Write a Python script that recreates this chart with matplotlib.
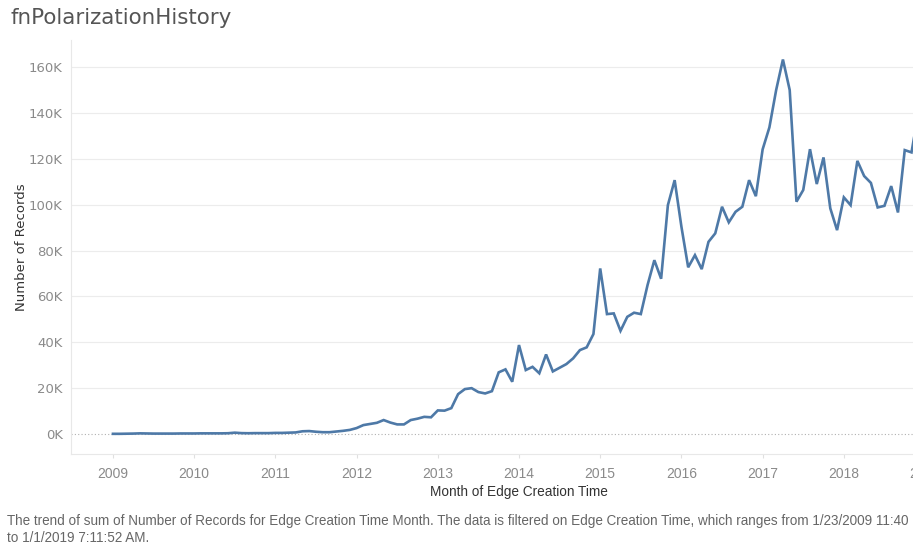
import numpy as np
import matplotlib.pyplot as plt

# monthly totals (thousands), Jan 2009 .. Dec 2018
records_2009 = [0.1, 0.1, 0.15, 0.2, 0.3, 0.25, 0.2, 0.2, 0.2, 0.2, 0.25, 0.25]
records_2010 = [0.25, 0.3, 0.3, 0.3, 0.3, 0.35, 0.6, 0.4, 0.35, 0.4, 0.4, 0.4]
records_2011 = [0.5, 0.5, 0.6, 0.7, 1.2, 1.3, 1.0, 0.8, 0.8, 1.1, 1.4, 1.8]
records_2012 = [2.6, 3.9, 4.4, 4.9, 6.1, 5.0, 4.2, 4.2, 6.1, 6.7, 7.5, 7.3]
records_2013 = [10.3, 10.2, 11.3, 17.4, 19.6, 20.0, 18.3, 17.7, 18.7, 26.9, 28.2, 22.8]
records_2014 = [38.8, 27.9, 29.3, 26.5, 34.7, 27.3, 28.9, 30.5, 33.0, 36.6, 37.8, 43.6]
records_2015 = [72.2, 52.3, 52.6, 45.0, 51.1, 52.9, 52.3, 65.0, 75.8, 67.7, 99.8, 110.7]
records_2016 = [90.4, 72.7, 78.0, 71.9, 83.8, 87.5, 99.1, 92.3, 96.9, 99.1, 110.7, 103.7]
records_2017 = [124.1, 133.7, 150.0, 163.3, 150.0, 101.3, 106.4, 124.2, 109.0, 120.6, 98.4, 88.9]
records_2018 = [103.2, 99.8, 119.1, 112.5, 109.5, 98.8, 99.5, 108.1, 96.6, 123.8, 122.8, 140.0]

years = list(range(2009, 2020))
y_ticks = [0, 20, 40, 60, 80, 100, 120, 140, 160]

values = np.array(records_2009 + records_2010 + records_2011 + records_2012 + records_2013
                  + records_2014 + records_2015 + records_2016 + records_2017 + records_2018)
months = np.arange(len(values))

narrow = ['Liberation Sans', 'DejaVu Sans']

fig = plt.figure(figsize=(9.13, 5.46), dpi=100)
ax = fig.add_axes([71 / 913, 92 / 546, 896 / 913, 414 / 546])

ax.plot(months, values, color='#4e79a7', lw=1.9, solid_joinstyle='miter', zorder=3)

ax.set_xlim(-6.2, 126.2)
ax.set_ylim(-8.7, 171.8)

ax.set_yticks(y_ticks)
ax.set_yticklabels([f'{v}K' for v in y_ticks])
ax.set_xticks([(y - 2009) * 12 for y in years])
ax.set_xticklabels([str(y) for y in years], family=narrow)

for v in y_ticks[1:]:
    ax.axhline(v, color='#ececec', lw=0.8, zorder=1)
ax.axhline(0, color='#b0b0b0', lw=0.8, ls=(0, (1, 2)), zorder=2)

for s in ['top', 'right']:
    ax.spines[s].set_visible(False)
ax.spines['left'].set_color('#e8e8e8')
ax.spines['bottom'].set_color('#e8e8e8')

ax.tick_params(axis='y', length=0, pad=6, labelsize=9.5, labelcolor='#8a8a8a')
ax.tick_params(axis='x', length=3, color='#e0e0e0', pad=6, labelsize=10, labelcolor='#8a8a8a')

ax.set_ylabel('Number of Records', fontsize=9.5, color='#333333')
ax.yaxis.set_label_coords(-43 / 896, 0.5)
fig.text(519 / 913, 1 - 492 / 546, 'Month of Edge Creation Time', ha='center', va='center',
         fontsize=9.8, color='#333333', family=narrow)

fig.text(10 / 913, 1 - 18 / 546, 'fnPolarizationHistory', ha='left', va='center',
         fontsize=15.4, color='#555555')

fig.text(7 / 913, 1 - 521 / 546,
         'The trend of sum of Number of Records for Edge Creation Time Month. The data is filtered on '
         'Edge Creation Time, which ranges from 1/23/2009 11:40',
         ha='left', va='center', fontsize=9.75, color='#666666', family=narrow)
fig.text(7 / 913, 1 - 538 / 546, 'to 1/1/2019 7:11:52 AM.',
         ha='left', va='center', fontsize=9.75, color='#666666', family=narrow)

fig.savefig('out.png', dpi=100)
